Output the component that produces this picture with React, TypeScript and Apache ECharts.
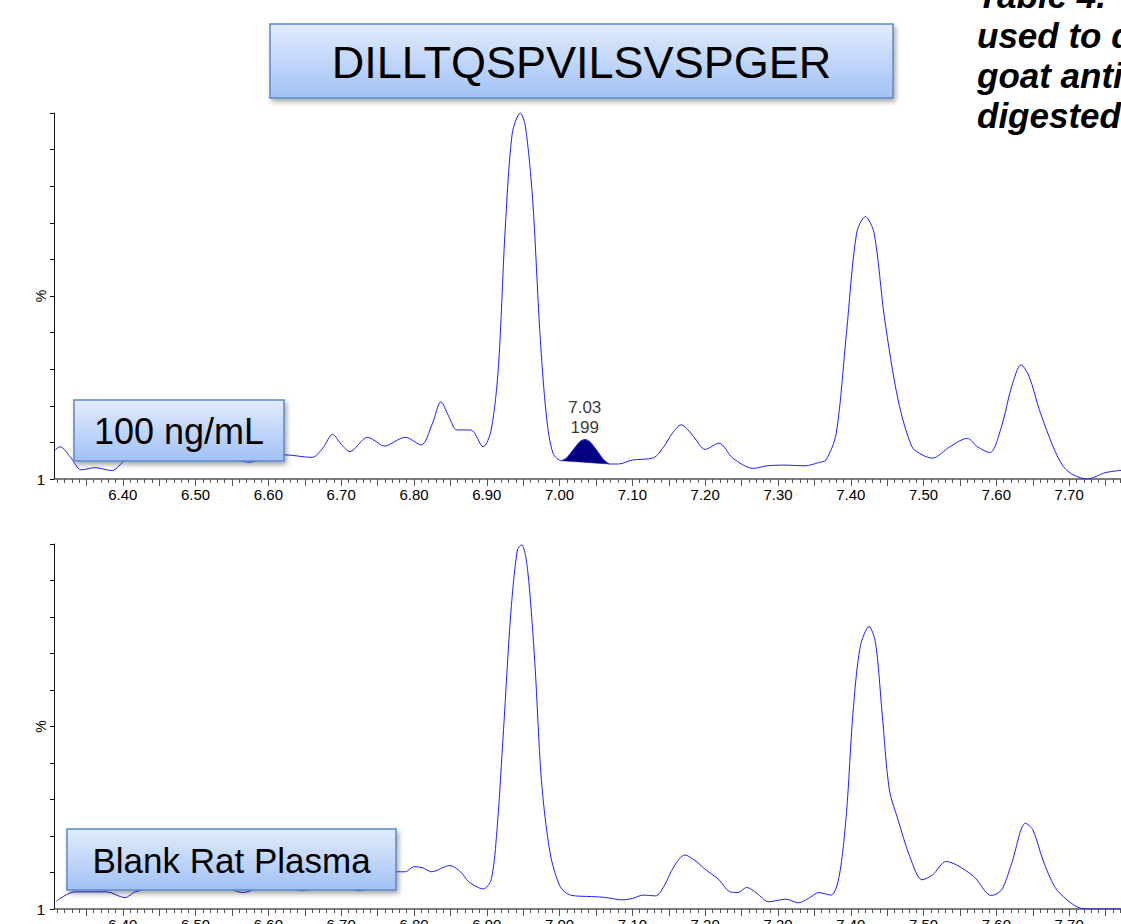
import React, { useEffect, useRef } from 'react';
import * as echarts from 'echarts';

// ---- data ----
const xLabels = ['6.40', '6.50', '6.60', '6.70', '6.80', '6.90', '7.00', '7.10', '7.20', '7.30', '7.40', '7.50', '7.60', '7.70'];
const yBottomLabel = '1';
const yName = '%';

// top trace: 100 ng/mL
const topT = [6.307, 6.314, 6.328, 6.343, 6.362, 6.385, 6.404, 6.43, 6.47, 6.52, 6.555, 6.574, 6.595, 6.622, 6.66, 6.675, 6.688, 6.7, 6.712, 6.736, 6.745, 6.759, 6.788, 6.81, 6.825, 6.837, 6.848, 6.859, 6.878, 6.895, 6.906, 6.916, 6.925, 6.935, 6.946, 6.953, 6.963, 6.973, 6.982, 6.991, 7.0026, 7.0095, 7.0186, 7.0278, 7.0346, 7.0415, 7.0507, 7.0598, 7.068, 7.081, 7.1, 7.129, 7.143, 7.155, 7.167, 7.176, 7.184, 7.2, 7.219, 7.238, 7.266, 7.285, 7.309, 7.337, 7.356, 7.366, 7.38, 7.394, 7.408, 7.42, 7.432, 7.446, 7.465, 7.484, 7.498, 7.512, 7.536, 7.56, 7.574, 7.591, 7.607, 7.621, 7.634, 7.645, 7.659, 7.678, 7.692, 7.706, 7.725, 7.749, 7.768, 7.78];
const topV = [7.9, 8.8, 6.0, 2.5, 3.1, 2.3, 5.2, 6.5, 6.2, 5.8, 5.2, 4.6, 5.6, 6.6, 5.9, 8.5, 12.2, 9.5, 7.5, 11.4, 10.6, 9.0, 11.4, 9.3, 15, 21.1, 17, 13.4, 13.4, 8.8, 13.4, 30.7, 67.2, 94.5, 100, 96.4, 76.3, 39.8, 17.0, 7.0, 5.0, 5.7, 7.9, 10.2, 10.8, 10.2, 7.9, 5.4, 4.1, 4.1, 5.2, 5.8, 8.8, 12.5, 14.8, 13.5, 11.6, 8.1, 9.8, 5.7, 2.9, 3.6, 3.8, 3.6, 4.5, 5.2, 12.5, 39.8, 67.2, 71.7, 67.2, 44.4, 21.6, 8.8, 6.6, 5.7, 8.8, 11.1, 8.8, 7.2, 14.3, 25.3, 31.2, 28.0, 18.9, 8.8, 3.4, 1.1, 0, 1.7, 2.3, 2.5];

// integrated peak (filled)
const peakT = [7.0026, 7.0095, 7.0186, 7.0278, 7.0346, 7.0415, 7.0507, 7.0598, 7.068];
const peakV = [5.0, 5.7, 7.9, 10.2, 10.8, 10.2, 7.9, 5.4, 4.1];
const peakRT = '7.03';
const peakArea = '199';

// bottom trace: Blank Rat Plasma
const botT = [6.309, 6.334, 6.378, 6.403, 6.417, 6.45, 6.5, 6.54, 6.565, 6.59, 6.62, 6.646, 6.68, 6.7, 6.724, 6.75, 6.7756, 6.788, 6.8, 6.812, 6.824, 6.849, 6.864, 6.875, 6.895, 6.906, 6.914, 6.923, 6.933, 6.942, 6.948, 6.956, 6.966, 6.975, 6.987, 7.001, 7.015, 7.044, 7.062, 7.086, 7.1, 7.115, 7.132, 7.143, 7.157, 7.172, 7.186, 7.198, 7.219, 7.233, 7.245, 7.257, 7.271, 7.287, 7.311, 7.328, 7.342, 7.356, 7.373, 7.384, 7.394, 7.403, 7.413, 7.425, 7.434, 7.443, 7.453, 7.465, 7.481, 7.498, 7.512, 7.531, 7.545, 7.569, 7.593, 7.607, 7.621, 7.64, 7.65, 7.664, 7.68, 7.697, 7.716, 7.735, 7.768, 7.78];
const botV = [2.2, 4.7, 4.7, 3.1, 4.7, 6.0, 6.5, 6.0, 4.5, 6.0, 6.5, 5.0, 6.5, 7.0, 5.0, 7.0, 10.2, 10.2, 11.6, 11.3, 10.2, 11.9, 10.2, 7.5, 5.5, 8.0, 21.7, 49.1, 81.1, 98.4, 99.8, 93.0, 67.4, 35.4, 15.3, 6.1, 3.8, 3.4, 3.2, 2.5, 2.9, 3.8, 3.6, 6.1, 11.6, 14.8, 13.3, 11.2, 8.0, 4.8, 4.5, 5.9, 4.3, 2.0, 2.7, 1.7, 2.9, 4.5, 3.8, 8.9, 26.2, 53.7, 71.9, 77.4, 72.9, 53.7, 32.6, 24.4, 14.4, 8.0, 9.3, 13.0, 12.1, 8.9, 3.7, 5.2, 12.5, 23.5, 21.7, 13.4, 6.1, 2.5, 0.2, 0, 0, 0];

const titleText = 'DILLTQSPVILSVSPGER';
const topPanelLabel = '100 ng/mL';
const bottomPanelLabel = 'Blank Rat Plasma';
const sideLines = ['Table 4.', 'used to quantify', 'goat anti-rat', 'digested'];

const X_MIN = 6.3055;
const X_MAX = 7.78;
const PX_PER_UNIT = 728;

const FONT = '"Liberation Sans", Arial, Helvetica, sans-serif';
const LINE_COLOR = '#1e1eff';

const labelVals = xLabels.map((s) => parseFloat(s));
const majorTicks: number[] = [];
for (let i = 127; i <= 155; i++) majorTicks.push(i * 0.05);
const minorTicks: number[] = [];
for (let i = 631; i <= 778; i++) minorTicks.push(i / 100);

function makeXAxes(gridIndex: number) {
  return [
    {
      type: 'value', gridIndex, min: X_MIN, max: X_MAX, position: 'bottom',
      axisLine: { show: true, lineStyle: { color: '#555', width: 1.5 } },
      axisTick: { show: true, customValues: majorTicks, length: 7, lineStyle: { color: '#555', width: 1 } },
      axisLabel: { show: true, customValues: labelVals, formatter: (v: number) => v.toFixed(2), margin: 8, fontSize: 15, color: '#000', fontFamily: FONT },
      splitLine: { show: false },
    },
    {
      type: 'value', gridIndex, min: X_MIN, max: X_MAX, position: 'bottom',
      axisLine: { show: false },
      axisTick: { show: true, customValues: minorTicks, length: 4, lineStyle: { color: '#555', width: 1 } },
      axisLabel: { show: false },
      splitLine: { show: false },
    },
  ];
}

function makeYAxis(gridIndex: number) {
  return {
    type: 'value', gridIndex, min: 0, max: 100, interval: 10,
    axisLine: { show: true, lineStyle: { color: '#111', width: 1 } },
    axisTick: { show: true, length: 4, lineStyle: { color: '#111' } },
    axisLabel: { formatter: (v: number) => (v === 0 ? yBottomLabel : ''), margin: 9, fontSize: 15, color: '#000', fontFamily: FONT },
    splitLine: { show: false },
    name: yName, nameLocation: 'middle', nameRotate: 90, nameGap: 6, nameMoveOverlap: false,
    nameTextStyle: { fontSize: 14, color: '#000', fontFamily: FONT },
  };
}

const boxFill = {
  type: 'linear', x: 0, y: 0, x2: 0, y2: 1,
  colorStops: [
    { offset: 0, color: '#e2ecfc' },
    { offset: 1, color: '#a2c1f5' },
  ],
};

function labelBox(x: number, y: number, w: number, h: number, text: string, size: number, textDy: number) {
  return {
    type: 'group', x, y, z: 100,
    children: [
      {
        type: 'rect', z: 100,
        shape: { x: 0, y: 0, width: w, height: h },
        style: {
          fill: boxFill, stroke: '#5b88c9', lineWidth: 1.5,
          shadowBlur: 5, shadowOffsetX: 2, shadowOffsetY: 3, shadowColor: 'rgba(0,0,0,0.35)',
        },
      },
      {
        type: 'text', z: 101, x: w / 2, y: textDy,
        style: { text, fill: '#000', font: `${size}px ${FONT}`, align: 'center', verticalAlign: 'middle' },
      },
    ],
  };
}

export default function App() {
  const ref = useRef<HTMLDivElement>(null);
  useEffect(() => {
    if (!ref.current) return;
    const chart = echarts.init(ref.current, null, { renderer: 'svg' });
    const width = (X_MAX - X_MIN) * PX_PER_UNIT;
    const option: any = {
      animation: false,
      backgroundColor: '#fff',
      grid: [
        { left: 54, top: 113, width, height: 366, outerBoundsMode: 'none', containLabel: false },
        { left: 54, top: 544, width, height: 365, outerBoundsMode: 'none', containLabel: false },
      ],
      xAxis: [...makeXAxes(0), ...makeXAxes(1)],
      yAxis: [makeYAxis(0), makeYAxis(1)],
      series: [
        {
          type: 'custom', xAxisIndex: 0, yAxisIndex: 0, z: 2,
          data: peakT.map((t, i) => [t, peakV[i]]),
          encode: { x: 0, y: 1 },
          renderItem: (params: any, api: any) => {
            if (params.dataIndex !== 0) return null;
            const pts = peakT.map((t, i) => api.coord([t, peakV[i]]));
            return { type: 'polygon', shape: { points: pts }, style: { fill: '#000080', stroke: '#000080', lineWidth: 0.5 } };
          },
        },
        {
          type: 'line', xAxisIndex: 0, yAxisIndex: 0, z: 3,
          data: topT.map((t, i) => [t, topV[i]]),
          smooth: 0.3, showSymbol: false, symbol: 'none',
          lineStyle: { color: LINE_COLOR, width: 1 },
        },
        {
          type: 'scatter', xAxisIndex: 0, yAxisIndex: 0, z: 4,
          data: [[peakT[4], peakV[4]]],
          symbolSize: 0,
          label: {
            show: true, position: 'top', distance: 2,
            formatter: () => `${peakRT}\n${peakArea}`,
            fontSize: 17, lineHeight: 20, color: '#000', fontFamily: FONT, align: 'center',
          },
        },
        {
          type: 'line', xAxisIndex: 2, yAxisIndex: 1, z: 3,
          data: botT.map((t, i) => [t, botV[i]]),
          smooth: 0.3, showSymbol: false, symbol: 'none',
          lineStyle: { color: LINE_COLOR, width: 1 },
        },
      ],
      graphic: [
        labelBox(270, 24, 623, 74, titleText, 45, 38),
        labelBox(74, 400, 210, 61, topPanelLabel, 36, 31),
        labelBox(67, 829, 329, 61, bottomPanelLabel, 35, 31),
        ...sideLines.map((s, i) => ({
          type: 'text', z: 100, x: 977, y: -5 + i * 40,
          style: { text: s, fill: '#000', font: `italic bold 35px ${FONT}`, align: 'left', verticalAlign: 'middle' },
        })),
      ],
    };
    chart.setOption(option);
    return () => chart.dispose();
  }, []);
  return (
    <div
      ref={ref}
      style={{ position: 'absolute', left: 0, top: 0, width: 1121, height: 924, overflow: 'hidden', background: '#fff' }}
    />
  );
}
